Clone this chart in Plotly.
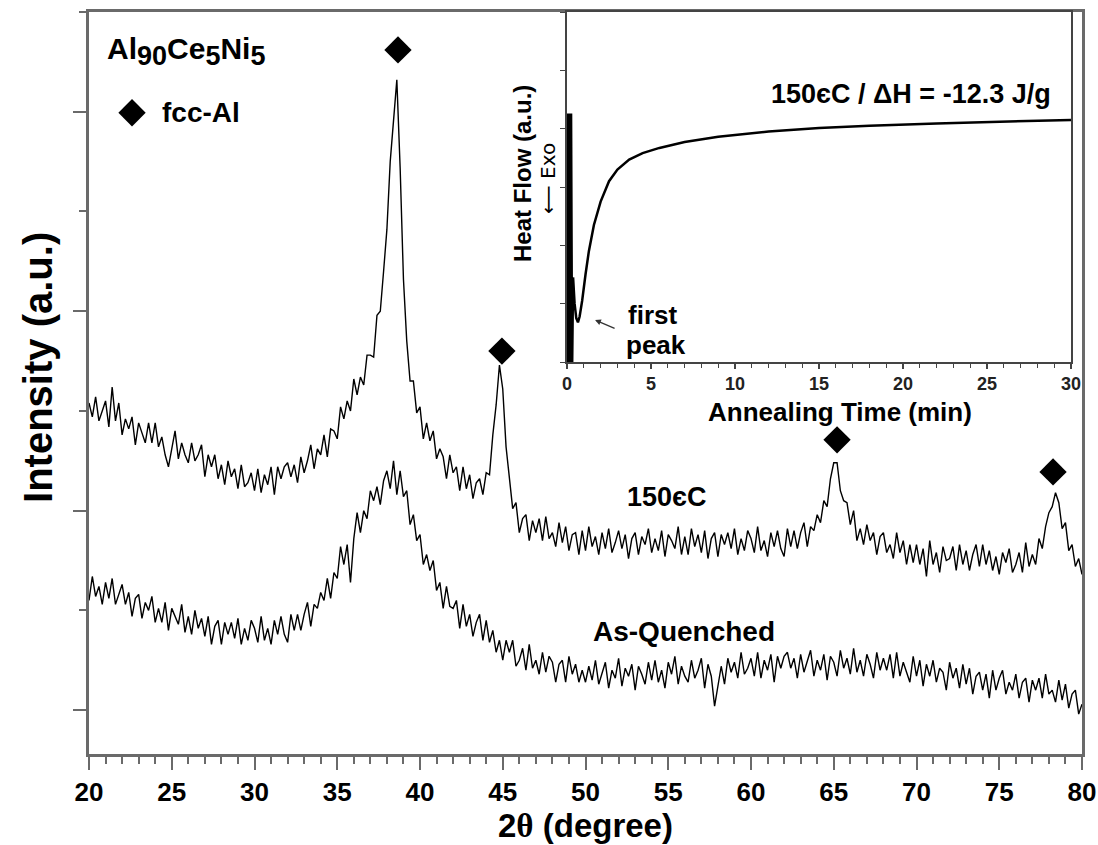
import plotly.graph_objects as go

# ---------------- XRD patterns (2-theta grid: 20.0 .. 80.0, step 0.2) ----------------
tt_start, tt_step = 20.0, 0.2

i_annealed_150 = [
    2.54, 2.47, 2.57, 2.45, 2.50, 2.55, 2.42, 2.62, 2.45, 2.54,
    2.38, 2.46, 2.41, 2.47, 2.33, 2.44, 2.39, 2.34, 2.44, 2.34,
    2.44, 2.32, 2.37, 2.28, 2.22, 2.32, 2.40, 2.26, 2.34, 2.28,
    2.24, 2.34, 2.25, 2.28, 2.33, 2.17, 2.28, 2.22, 2.28, 2.16,
    2.23, 2.13, 2.25, 2.17, 2.21, 2.11, 2.23, 2.12, 2.14, 2.19,
    2.10, 2.21, 2.09, 2.18, 2.13, 2.22, 2.08, 2.22, 2.16, 2.22,
    2.24, 2.17, 2.23, 2.14, 2.27, 2.19, 2.25, 2.33, 2.21, 2.31,
    2.28, 2.38, 2.27, 2.41, 2.40, 2.36, 2.52, 2.46, 2.55, 2.50,
    2.66, 2.58, 2.67, 2.63, 2.78, 2.78, 2.77, 2.98, 3.00, 3.20,
    3.41, 3.75, 3.96, 4.16, 3.72, 3.16, 2.85, 2.65, 2.65, 2.49,
    2.52, 2.36, 2.44, 2.35, 2.40, 2.26, 2.31, 2.27, 2.16, 2.28,
    2.19, 2.22, 2.10, 2.22, 2.11, 2.18, 2.06, 2.14, 2.16, 2.08,
    2.19, 2.18, 2.38, 2.53, 2.73, 2.61, 2.32, 2.17, 2.01, 2.04,
    1.89, 1.96, 1.98, 1.85, 1.95, 1.89, 1.96, 1.85, 1.97, 1.86,
    1.89, 1.82, 1.94, 1.84, 1.92, 1.80, 1.88, 1.89, 1.78, 1.90,
    1.80, 1.92, 1.82, 1.87, 1.78, 1.89, 1.81, 1.91, 1.79, 1.84,
    1.90, 1.81, 1.88, 1.76, 1.86, 1.89, 1.78, 1.87, 1.83, 1.91,
    1.79, 1.86, 1.80, 1.90, 1.77, 1.88, 1.85, 1.81, 1.92, 1.78,
    1.87, 1.78, 1.91, 1.82, 1.88, 1.79, 1.90, 1.76, 1.86, 1.89,
    1.77, 1.88, 1.83, 1.89, 1.81, 1.91, 1.78, 1.86, 1.80, 1.90,
    1.86, 1.79, 1.92, 1.80, 1.85, 1.77, 1.89, 1.82, 1.90, 1.81,
    1.77, 1.91, 1.82, 1.90, 1.81, 1.89, 1.94, 1.82, 1.92, 1.90,
    1.98, 1.94, 2.05, 2.02, 2.16, 2.24, 2.24, 2.10, 2.05, 2.04,
    1.93, 2.00, 1.85, 1.91, 1.83, 1.93, 1.85, 1.89, 1.78, 1.87,
    1.89, 1.79, 1.83, 1.76, 1.89, 1.79, 1.85, 1.73, 1.83, 1.74,
    1.83, 1.73, 1.81, 1.67, 1.85, 1.73, 1.79, 1.69, 1.82, 1.75,
    1.76, 1.82, 1.70, 1.83, 1.73, 1.80, 1.70, 1.78, 1.83, 1.72,
    1.83, 1.73, 1.80, 1.70, 1.77, 1.68, 1.79, 1.74, 1.81, 1.69,
    1.73, 1.79, 1.69, 1.84, 1.72, 1.78, 1.73, 1.86, 1.81, 1.92,
    1.99, 2.02, 2.09, 2.04, 1.91, 1.94, 1.80, 1.83, 1.72, 1.76,
    1.68,
]

i_as_quenched = [
    1.55, 1.67, 1.57, 1.62, 1.53, 1.64, 1.56, 1.66, 1.53, 1.58,
    1.63, 1.53, 1.59, 1.47, 1.56, 1.58, 1.46, 1.54, 1.50, 1.57,
    1.44, 1.51, 1.44, 1.54, 1.40, 1.51, 1.47, 1.43, 1.53, 1.39,
    1.47, 1.38, 1.50, 1.41, 1.46, 1.37, 1.47, 1.33, 1.42, 1.45,
    1.33, 1.44, 1.38, 1.44, 1.36, 1.46, 1.33, 1.41, 1.35, 1.45,
    1.41, 1.34, 1.47, 1.35, 1.41, 1.33, 1.45, 1.38, 1.47, 1.38,
    1.34, 1.48, 1.40, 1.48, 1.40, 1.48, 1.54, 1.42, 1.53, 1.51,
    1.59, 1.55, 1.66, 1.56, 1.69, 1.66, 1.82, 1.73, 1.83, 1.64,
    1.86, 1.99, 1.89, 2.00, 1.96, 2.10, 2.05, 2.12, 2.03, 2.15,
    2.20, 2.11, 2.25, 2.08, 2.20, 2.07, 2.10, 1.93, 1.98, 1.85,
    1.88, 1.73, 1.78, 1.70, 1.75, 1.60, 1.64, 1.51, 1.62, 1.52,
    1.51, 1.55, 1.41, 1.53, 1.42, 1.48, 1.37, 1.44, 1.48, 1.35,
    1.45, 1.34, 1.40, 1.29, 1.35, 1.25, 1.35, 1.29, 1.35, 1.22,
    1.25, 1.31, 1.20, 1.33, 1.21, 1.25, 1.18, 1.29, 1.19, 1.27,
    1.24, 1.14, 1.23, 1.25, 1.14, 1.27, 1.18, 1.23, 1.14, 1.20,
    1.14, 1.22, 1.15, 1.25, 1.13, 1.19, 1.24, 1.11, 1.20, 1.16,
    1.26, 1.12, 1.21, 1.17, 1.23, 1.10, 1.22, 1.18, 1.13, 1.24,
    1.15, 1.25, 1.14, 1.20, 1.11, 1.24, 1.18, 1.27, 1.13, 1.22,
    1.17, 1.14, 1.25, 1.16, 1.20, 1.26, 1.11, 1.23, 1.17, 1.02,
    1.13, 1.22, 1.13, 1.26, 1.19, 1.24, 1.16, 1.29, 1.18, 1.21,
    1.26, 1.17, 1.29, 1.16, 1.25, 1.20, 1.28, 1.14, 1.27, 1.21,
    1.27, 1.29, 1.21, 1.26, 1.16, 1.28, 1.19, 1.24, 1.30, 1.17,
    1.25, 1.20, 1.28, 1.15, 1.27, 1.24, 1.17, 1.30, 1.21, 1.26,
    1.18, 1.31, 1.19, 1.25, 1.17, 1.28, 1.23, 1.16, 1.29, 1.20,
    1.26, 1.20, 1.28, 1.16, 1.29, 1.17, 1.24, 1.19, 1.14, 1.27,
    1.17, 1.25, 1.12, 1.23, 1.17, 1.25, 1.14, 1.21, 1.19, 1.10,
    1.24, 1.16, 1.21, 1.11, 1.23, 1.13, 1.21, 1.08, 1.17, 1.19,
    1.10, 1.18, 1.06, 1.20, 1.10, 1.16, 1.20, 1.08, 1.14, 1.10,
    1.18, 1.06, 1.14, 1.16, 1.04, 1.15, 1.10, 1.16, 1.06, 1.18,
    1.08, 1.10, 1.04, 1.15, 1.05, 1.13, 1.01, 1.08, 1.10, 0.98,
    1.03,
]

two_theta = [round(tt_start + tt_step * k, 1) for k in range(len(i_annealed_150))]

# fcc-Al reflections marked above the annealed pattern
fcc_peaks_2theta = [38.67, 44.95, 65.2, 78.25]
fcc_marker_level = [4.31, 2.80, 2.355, 2.194]

# ---------------- Isothermal DSC trace at 150 C ----------------
dsc_time = [0.0, 0.06, 0.12, 0.18, 0.24, 0.30, 0.36, 0.45, 0.55, 0.65, 0.75, 0.9,
            1.1, 1.3, 1.6, 2.0, 2.5, 3.0, 3.7, 4.5, 5.5, 7.0, 9.0, 12.0, 15.0,
            18.0, 22.0, 26.0, 30.0]
dsc_heat_flow = [4.26, -0.2, 4.26, -0.2, 4.26, -0.2, 1.45, 1.0, 0.75, 0.68, 0.78, 1.05,
                 1.5, 1.9, 2.35, 2.75, 3.1, 3.3, 3.47, 3.58, 3.67, 3.77, 3.86, 3.95, 4.01,
                 4.05, 4.09, 4.12, 4.15]

FONT = "Liberation Sans, Arial, sans-serif"
FRAME = "#6a6a6a"

fig = go.Figure()

fig.add_trace(go.Scatter(x=two_theta, y=i_annealed_150, mode="lines",
                         line=dict(color="black", width=1.4), xaxis="x", yaxis="y"))
fig.add_trace(go.Scatter(x=two_theta, y=i_as_quenched, mode="lines",
                         line=dict(color="black", width=1.4), xaxis="x", yaxis="y"))
fig.add_trace(go.Scatter(x=fcc_peaks_2theta, y=fcc_marker_level, mode="markers",
                         marker=dict(symbol="diamond", size=21, color="black"),
                         xaxis="x", yaxis="y"))
# legend symbol
fig.add_trace(go.Scatter(x=[22.6], y=[3.995], mode="markers",
                         marker=dict(symbol="diamond", size=21, color="black"),
                         xaxis="x", yaxis="y"))

fig.add_trace(go.Scatter(x=dsc_time, y=dsc_heat_flow, mode="lines",
                         line=dict(color="black", width=2.5), xaxis="x2", yaxis="y2"))

ann = []


def txt(text, x, y, size, xref="x", yref="y", xanchor="center", yanchor="middle",
        angle=0, bold=True, family=FONT):
    ann.append(dict(text=f"<b>{text}</b>" if bold else text, x=x, y=y, xref=xref, yref=yref,
                    xanchor=xanchor, yanchor=yanchor, textangle=angle, showarrow=False,
                    font=dict(family=family, size=size, color="black")))


sub = "<sub><span style='font-size:27px'>{}</span></sub>"
txt("Al" + sub.format("90") + "Ce" + sub.format("5") + "Ni" + sub.format("5"),
    20.97, 4.30, 30, xanchor="left")
txt("fcc-Al", 24.29, 3.995, 28, xanchor="left")
txt("150єC", 54.92, 2.069, 27)
txt("As-Quenched", 55.95, 1.396, 28)
txt("Intensity (a.u.)", -0.0514, 0.5216, 40, xref="paper", yref="paper", angle=-90)
txt("2<span style='font-family:Liberation Serif'>θ</span> (degree)", 0.5005, -0.0970, 33,
    xref="paper", yref="paper")

# inset labels
txt("150єC / ΔH = -12.3 J/g", 20.48, 4.60, 27, xref="x2", yref="y2")
txt("Heat Flow (a.u.)", 0.4371, 0.7817, 24, xref="paper", yref="paper", angle=-90)
txt("⟵ Exo", 0.4622, 0.7763, 20, xref="paper", yref="paper", angle=-90, bold=False,
    family="DejaVu Sans, sans-serif")
txt("first", 3.51, 0.81, 26, xref="x2", yref="y2", xanchor="left")
txt("peak", 3.39, 0.29, 26, xref="x2", yref="y2", xanchor="left")
txt("Annealing Time (min)", 0.7563, 0.4609, 26, xref="paper", yref="paper")
ann.append(dict(x=1.67, y=0.72, xref="x2", yref="y2", ax=21, ay=9, axref="pixel",
                ayref="pixel", text="", showarrow=True, arrowhead=2, arrowsize=0.9,
                arrowwidth=1.3, arrowcolor="#333"))

fig.update_layout(
    width=1098, height=845,
    margin=dict(l=89, r=16, t=12, b=91, autoexpand=False),
    paper_bgcolor="white", plot_bgcolor="white",
    showlegend=False,
    font=dict(family=FONT, color="black"),
    annotations=ann,
    xaxis=dict(range=[20, 80], dtick=5, tick0=20, showgrid=False, zeroline=False,
               showline=True, mirror=True, linecolor=FRAME, linewidth=2.5,
               ticks="outside", ticklen=13, tickwidth=2, tickcolor=FRAME,
               minor=dict(dtick=1, ticks="outside", ticklen=7, tickwidth=2, tickcolor=FRAME),
               tickfont=dict(family=FONT, size=26, color="black", weight="bold"),
               ticklabelstandoff=0),
    yaxis=dict(range=[0.78, 4.50], dtick=1, tick0=1, showgrid=False, zeroline=False,
               showline=True, mirror=True, linecolor=FRAME, linewidth=2.5,
               ticks="outside", ticklen=13, tickwidth=2, tickcolor=FRAME,
               minor=dict(dtick=0.5, ticks="outside", ticklen=7, tickwidth=2, tickcolor=FRAME),
               showticklabels=False),
    xaxis2=dict(domain=[0.4814, 0.9889], anchor="y2", range=[0, 30], dtick=5,
                showgrid=False, zeroline=False, showline=True, mirror=True,
                linecolor="#444", linewidth=1.5, ticks="outside", ticklen=5, tickwidth=1.5,
                tickcolor="#444",
                minor=dict(dtick=1, ticks="outside", ticklen=4, tickwidth=1.2, tickcolor="#444"),
                tickfont=dict(family=FONT, size=18, color="#222", weight="bold"),
                ticklabelstandoff=0),
    yaxis2=dict(domain=[0.5283, 1.0], anchor="x2", range=[0, 6], dtick=1,
                showgrid=False, zeroline=False, showline=True, mirror=True,
                linecolor="#444", linewidth=1.5, ticks="outside", ticklen=5, tickwidth=1.2,
                tickcolor="#444", showticklabels=False),
)

fig.write_html("out.html")
